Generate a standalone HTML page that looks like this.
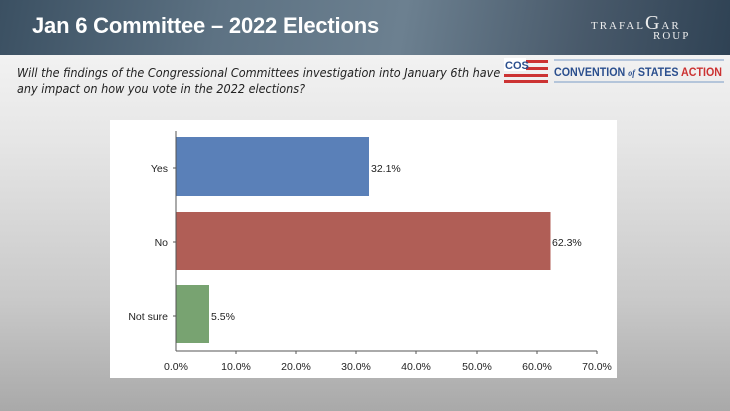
<!DOCTYPE html>
<html><head><style>
body{margin:0;width:730px;height:411px;overflow:hidden;font-family:"Liberation Sans",sans-serif;}
.bg{position:absolute;left:0;top:0;width:730px;height:411px;background:linear-gradient(180deg,#f2f2f2 55px,#e6e6e6 140px,#c9c9c9 300px,#a9a9a9 411px);}
.hdr{position:absolute;left:0;top:0;width:730px;height:55px;background:linear-gradient(100deg,#3b5062 0%,#5d7283 30%,#6c8090 55%,#48596a 80%,#2f4254 100%);}
.title{position:absolute;left:32px;top:13px;color:#fff;font-size:22px;font-weight:bold;font-family:"Liberation Sans",sans-serif;letter-spacing:-0.2px}
.q{position:absolute;left:17px;top:65px;font-size:12.5px;font-style:italic;color:#222;line-height:16px;font-family:"DejaVu Sans Condensed","Liberation Sans",sans-serif}
.chart{position:absolute;left:110px;top:120px;width:507px;height:258px;background:#fff}
</style></head><body>
<div class="bg"></div>
<div class="hdr"></div>
<div class="title">Jan 6 Committee – 2022 Elections</div>
<div style="position:absolute;left:591px;top:12px;color:#eee;font-family:'Liberation Serif',serif;font-size:11px;letter-spacing:2px">TRAFAL<span style="font-size:20px">G</span>AR</div>
<div style="position:absolute;left:653px;top:30px;color:#eee;font-family:'Liberation Serif',serif;font-size:11px;letter-spacing:2px">ROUP</div>
<div class="q">Will the findings of the Congressional Committees investigation into January 6th have<br>any impact on how you vote in the 2022 elections?</div>
<svg style="position:absolute;left:504px;top:58px" width="222" height="26">
<rect x="0" y="2" width="44" height="3" fill="#c33"/><rect x="0" y="9" width="44" height="3" fill="#c33"/><rect x="0" y="16" width="44" height="3" fill="#c33"/><rect x="0" y="22" width="44" height="3" fill="#c33"/>
<rect x="0" y="0" width="22" height="13" fill="#fff"/>
<text x="1" y="11" font-size="11" font-weight="bold" fill="#2b4f8e" font-family="Liberation Sans Narrow,Liberation Sans">COS</text>
<line x1="50" y1="2" x2="220" y2="2" stroke="#7a9cc6"/><line x1="50" y1="24" x2="220" y2="24" stroke="#7a9cc6"/>
<text x="50" y="18" font-size="12" font-weight="bold" fill="#2b4f8e" font-family="Liberation Sans Narrow,Liberation Sans" textLength="168" lengthAdjust="spacingAndGlyphs">CONVENTION <tspan font-style="italic" font-size="9" font-family="Liberation Serif">of</tspan> STATES <tspan fill="#c33">ACTION</tspan></text>
</svg>
<div class="chart"></div>
<svg style="position:absolute;left:0;top:0" width="730" height="411" font-family="Liberation Sans" font-size="10.5" fill="#222">
<rect x="176" y="137" width="193" height="59" fill="#5a80b8"/>
<rect x="176" y="212" width="374.5" height="58" fill="#b05e56"/>
<rect x="176" y="285" width="33" height="58" fill="#78a371"/>
<line x1="176" y1="131" x2="176" y2="351" stroke="#555"/>
<line x1="176" y1="351" x2="597" y2="351" stroke="#555"/>
<g stroke="#555"><line x1="173" y1="168" x2="176" y2="168"/><line x1="173" y1="242" x2="176" y2="242"/><line x1="173" y1="316" x2="176" y2="316"/>
<line x1="236" y1="351" x2="236" y2="354"/><line x1="296" y1="351" x2="296" y2="354"/><line x1="356" y1="351" x2="356" y2="354"/><line x1="416" y1="351" x2="416" y2="354"/><line x1="477" y1="351" x2="477" y2="354"/><line x1="537" y1="351" x2="537" y2="354"/><line x1="597" y1="351" x2="597" y2="354"/></g>
<g text-anchor="end"><text x="168" y="172">Yes</text><text x="168" y="246">No</text><text x="168" y="320">Not sure</text></g>
<text x="371" y="172">32.1%</text><text x="552" y="246">62.3%</text><text x="211" y="320">5.5%</text>
<g text-anchor="middle"><text x="176" y="370">0.0%</text><text x="236" y="370">10.0%</text><text x="296" y="370">20.0%</text><text x="356" y="370">30.0%</text><text x="416" y="370">40.0%</text><text x="477" y="370">50.0%</text><text x="537" y="370">60.0%</text><text x="597" y="370">70.0%</text></g>
</svg>
</body></html>
